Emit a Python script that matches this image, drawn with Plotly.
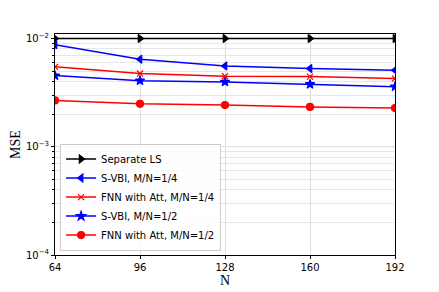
import plotly.graph_objects as go
import numpy as np

N = [64, 96, 128, 160, 192]
sep_ls = [1.0e-2, 1.0e-2, 1.0e-2, 1.0e-2, 1.0e-2]
svbi_q = [8.74e-3, 6.44e-3, 5.58e-3, 5.28e-3, 5.09e-3]
fnn_q = [5.47e-3, 4.75e-3, 4.48e-3, 4.45e-3, 4.26e-3]
svbi_h = [4.54e-3, 4.08e-3, 3.97e-3, 3.78e-3, 3.59e-3]
fnn_h = [2.68e-3, 2.49e-3, 2.43e-3, 2.33e-3, 2.28e-3]

series = [
    ("Separate LS", sep_ls, "black", "triangle-right", 7),
    ("S-VBI, M/N=1/4", svbi_q, "blue", "triangle-left", 7),
    ("FNN with Att, M/N=1/4", fnn_q, "red", "x-thin-open", 6),
    ("S-VBI, M/N=1/2", svbi_h, "blue", "star", 7),
    ("FNN with Att, M/N=1/2", fnn_h, "red", "circle", 7),
]

fig = go.Figure()
for name, vals, color, sym, sz in series:
    fig.add_trace(go.Scatter(
        x=N, y=vals, name=name, mode="lines+markers",
        line=dict(color=color, width=1.5),
        marker=dict(symbol=sym, size=sz, color=color,
                    line=dict(color=color, width=1.2)),
    ))

minor_vals = [m * 10.0 ** e for e in (-4, -3, -2) for m in range(2, 10)]

fig.update_layout(
    width=431, height=284,
    margin=dict(l=47, r=44, t=26, b=37),
    plot_bgcolor="white", paper_bgcolor="white",
    font=dict(family="DejaVu Sans", size=10, color="black"),
    showlegend=True,
    legend=dict(x=0.015, y=0.02, xanchor="left", yanchor="bottom",
                bgcolor="rgba(255,255,255,0.8)", bordercolor="#cccccc",
                borderwidth=1, font=dict(size=10, family="DejaVu Sans"),
                tracegroupgap=0, itemwidth=30),
)
fig.update_xaxes(
    range=[64, 192], tickvals=N, ticktext=[str(v) for v in N],
    showgrid=True, gridcolor="#dddddd", gridwidth=1,
    showline=True, linecolor="black", linewidth=1, mirror=True,
    ticks="outside", ticklen=3, tickcolor="black",
    zeroline=False, automargin=False,
    title=dict(text="N", font=dict(family="Liberation Serif", size=14), standoff=0),
)
fig.update_yaxes(
    type="log", range=[-4, np.log10(1.1e-2)],
    tickvals=[1e-4, 1e-3, 1e-2],
    ticktext=["10<sup>−4</sup>", "10<sup>−3</sup>", "10<sup>−2</sup>"],
    showgrid=True, gridcolor="#dddddd", gridwidth=1,
    minor=dict(tickvals=minor_vals, showgrid=True, gridcolor="#e6e6e6",
               ticks="outside", ticklen=2, tickcolor="black"),
    showline=True, linecolor="black", linewidth=1, mirror=True,
    ticks="outside", ticklen=3, tickcolor="black", automargin=False,
    title=dict(text="MSE", font=dict(family="Liberation Serif", size=14), standoff=4),
)

fig.write_html("out.html")
